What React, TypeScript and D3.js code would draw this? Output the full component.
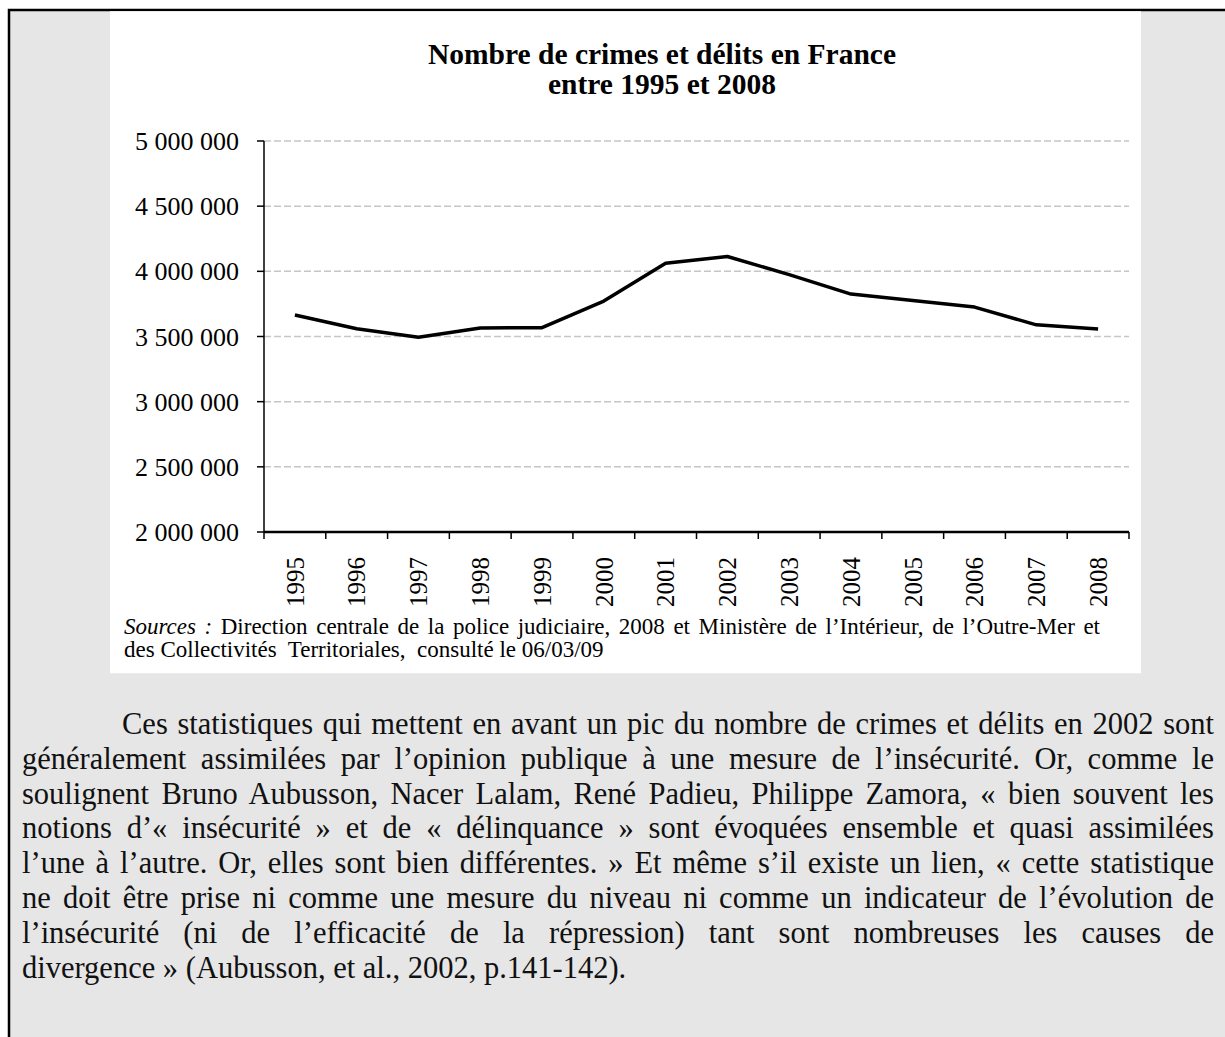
import React, { useLayoutEffect, useRef, useState } from "react";
import * as d3 from "d3";

const years = ["1995","1996","1997","1998","1999","2000","2001","2002","2003","2004","2005","2006","2007","2008"];
const crimes = [3665320, 3559617, 3493442, 3565525, 3567864, 3771849, 4061792, 4113882, 3974694, 3825442, 3775838, 3725588, 3589293, 3558329];
const yTicks = [2000000, 2500000, 3000000, 3500000, 4000000, 4500000, 5000000];
const titleLines = ["Nombre de crimes et délits en France", "entre 1995 et 2008"];
const sourceLabel = "Sources :";
const sourceLine1 = "Direction centrale de la police judiciaire, 2008 et Ministère de l’Intérieur, de l’Outre-Mer et";
const sourceLine2 = "des Collectivités  Territoriales,  consulté le 06/03/09";
const paragraphLines = [
  "Ces statistiques qui mettent en avant un pic du nombre de crimes et délits en 2002 sont",
  "généralement assimilées par l’opinion publique à une mesure de l’insécurité. Or, comme le",
  "soulignent Bruno Aubusson, Nacer Lalam, René Padieu, Philippe Zamora, « bien souvent les",
  "notions d’« insécurité » et de « délinquance » sont évoquées ensemble et quasi assimilées",
  "l’une à l’autre. Or, elles sont bien différentes. » Et même s’il existe un lien, « cette statistique",
  "ne doit être prise ni comme une mesure du niveau ni comme un indicateur de l’évolution de",
  "l’insécurité (ni de l’efficacité de la répression) tant sont nombreuses les causes de",
  "divergence » (Aubusson, et al., 2002, p.141-142).",
];

const SERIF = "'Liberation Serif', 'Times New Roman', serif";

export default function App() {
  const W = 1225, H = 1037;
  const left = 264, right = 1129, top = 141, bottom = 532;
  const x = d3.scaleBand<string>().domain(years).range([left, right]);
  const y = d3.scaleLinear().domain([2000000, 5000000]).range([bottom, top]);
  const bw = x.bandwidth();
  const fmt = (v: number) => d3.format(",")(v).replace(/,/g, " ");
  const line = d3.line<number>()
    .x((_, i) => (x(years[i]) as number) + bw / 2)
    .y((d) => y(d));

  const paraSize = 30.5;
  const paraTop = 734;
  const paraStep = 34.8;
  const paraLeft = 22, paraRight = 1214, indent = 122;
  const srcSize = 23;
  const srcLeft = 124, srcRight = 1100;

  const refs = useRef<Record<string, SVGTextElement | null>>({});
  const [ws, setWs] = useState<Record<string, number>>({});

  const specs: { key: string; x0: number; x1: number; text: string }[] = [
    { key: "src", x0: srcLeft, x1: srcRight, text: sourceLabel + " " + sourceLine1 },
    ...paragraphLines.slice(0, -1).map((t, i) => ({ key: "p" + i, x0: i === 0 ? indent : paraLeft, x1: paraRight, text: t })),
  ];

  useLayoutEffect(() => {
    const out: Record<string, number> = {};
    specs.forEach((s) => {
      const el = refs.current[s.key];
      if (!el) return;
      const len = el.getComputedTextLength();
      const n = (s.text.match(/ /g) || []).length;
      out[s.key] = n > 0 ? (s.x1 - s.x0 - len) / n : 0;
    });
    setWs(out);
  }, []);

  return (
    <svg width={W} height={H} style={{ position: "absolute", left: 0, top: 0 }} fontFamily={SERIF}>
      <rect x={0} y={0} width={W} height={H} fill="#ffffff" />
      <rect x={9} y={10} width={W + 20} height={H + 20} fill="#e6e6e6" stroke="#000" strokeWidth={2.5} />
      <rect x={110} y={11.25} width={1031} height={662} fill="#ffffff" />

      {titleLines.map((t, i) => (
        <text key={t} x={662} y={64 + i * 30} textAnchor="middle" fontWeight="bold" fontSize={29.5} fill="#000">{t}</text>
      ))}

      {yTicks.filter((v) => v > 2000000).map((v) => (
        <line key={"g" + v} x1={left} x2={right} y1={y(v)} y2={y(v)} stroke="#c6c6c6" strokeWidth={1.5} strokeDasharray="7 3" />
      ))}
      <line x1={left} x2={left} y1={top} y2={bottom} stroke="#000" strokeWidth={1.5} />
      {yTicks.map((v) => (
        <g key={"t" + v}>
          <line x1={left - 7} x2={left} y1={y(v)} y2={y(v)} stroke="#000" strokeWidth={1.5} />
          <text x={239} y={y(v)} dy="0.35em" textAnchor="end" fontSize={26} fill="#000">{fmt(v)}</text>
        </g>
      ))}
      <line x1={left} x2={right} y1={bottom} y2={bottom} stroke="#000" strokeWidth={2.5} />
      {d3.range(years.length + 1).map((i) => (
        <line key={"xt" + i} x1={left + i * bw} x2={left + i * bw} y1={bottom} y2={bottom + 7} stroke="#000" strokeWidth={1.5} />
      ))}
      {years.map((yr) => (
        <text key={yr} transform={`translate(${(x(yr) as number) + bw / 2},557) rotate(-90)`} dy="0.35em" textAnchor="end" fontSize={25} fill="#000">{yr}</text>
      ))}
      <path d={line(crimes) || ""} fill="none" stroke="#000" strokeWidth={3.5} strokeLinejoin="round" />

      <text ref={(el) => { refs.current["src"] = el; }} x={srcLeft} y={634} fontSize={srcSize} fill="#000" wordSpacing={ws["src"] || 0}>
        <tspan fontStyle="italic">{sourceLabel}</tspan>{" " + sourceLine1}
      </text>
      <text x={srcLeft} y={657} fontSize={srcSize} fill="#000" style={{ whiteSpace: "pre" }}>{sourceLine2}</text>

      {paragraphLines.map((ln, li) => {
        const yy = paraTop + li * paraStep;
        const last = li === paragraphLines.length - 1;
        const key = "p" + li;
        return (
          <text
            key={key}
            ref={(el) => { refs.current[key] = el; }}
            x={li === 0 ? indent : paraLeft}
            y={yy}
            fontSize={paraSize}
            fill="#111"
            wordSpacing={last ? 0 : ws[key] || 0}
          >{ln}</text>
        );
      })}
    </svg>
  );
}
